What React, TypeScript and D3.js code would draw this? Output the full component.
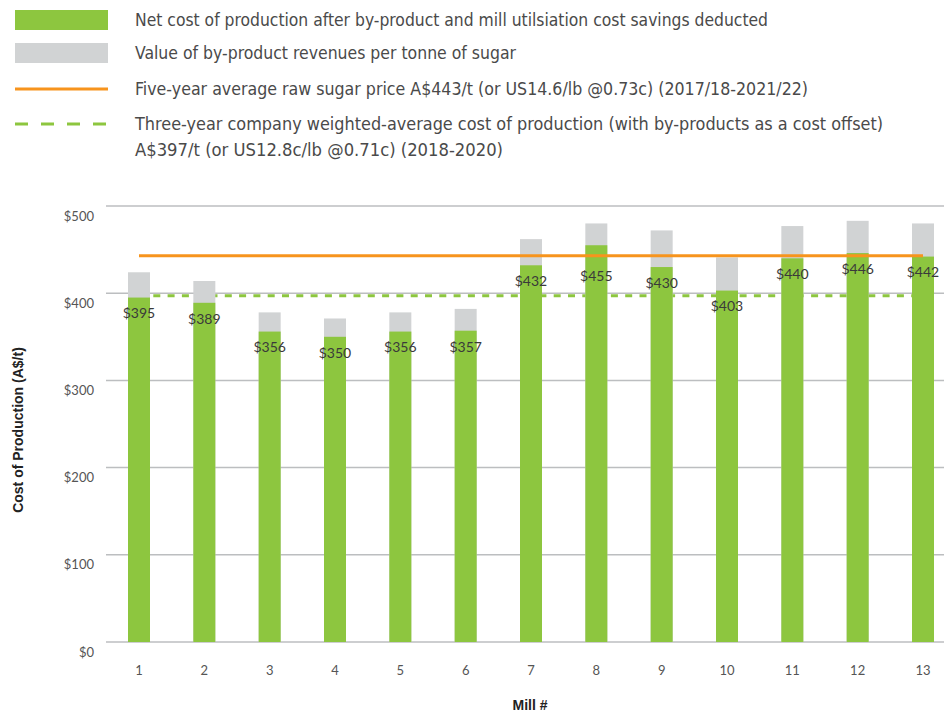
import React from "react";
import * as d3 from "d3";

const mills = ["1", "2", "3", "4", "5", "6", "7", "8", "9", "10", "11", "12", "13"];
const netCost = [395, 389, 356, 350, 356, 357, 432, 455, 430, 403, 440, 446, 442];
const byProduct = [29, 25, 22, 21, 22, 25, 30, 25, 42, 38, 37, 37, 38];
const yTicks = [0, 100, 200, 300, 400, 500];
const sugarPrice = 443;
const avgCost = 397;

const legendLabels = [
  "Net cost of production after by-product and mill utilsiation cost savings deducted",
  "Value of by-product revenues per tonne of sugar",
  "Five-year average raw sugar price A$443/t (or US14.6/lb @0.73c) (2017/18-2021/22)",
  "Three-year company weighted-average cost of production (with by-products as a cost offset)",
  "A$397/t (or US12.8c/lb @0.71c) (2018-2020)",
];

const GREEN = "#8dc63f";
const GRAY = "#d1d3d4";
const ORANGE = "#f7941d";
const GRID = "#bcbec0";
const TEXT = "#4a4a4a";

export default function App() {
  const W = 944;
  const H = 714;
  const x = d3.scalePoint<string>().domain(mills).range([139, 923]);
  const y = d3.scaleLinear().domain([0, 500]).range([642, 206]);
  const bw = 22;
  const legendFont = "'Liberation Sans Narrow', 'DejaVu Sans Condensed', 'Roboto', sans-serif";
  const labelFont = "Lato, 'Open Sans', sans-serif";

  const orangeY = y(sugarPrice);
  const labelY = (v: number) => {
    let ly = y(v) + 16;
    if (Math.abs(ly - orangeY) < 10) ly = orangeY + 20;
    return ly;
  };

  const legendRowsY = [20, 53, 89, 124, 150];
  const legendWidths = [633, 381, 673, 748, 368];

  return (
    <svg
      width={W}
      height={H}
      style={{ position: "absolute", left: 0, top: 0, background: "#fff" }}
    >
      {/* Legend */}
      <rect x={15} y={10} width={93} height={20} fill={GREEN} />
      <rect x={15} y={43} width={93} height={20} fill={GRAY} />
      <line x1={15} x2={108} y1={89} y2={89} stroke={ORANGE} strokeWidth={3} />
      <line
        x1={15}
        x2={110}
        y1={124}
        y2={124}
        stroke={GREEN}
        strokeWidth={3}
        strokeDasharray="13,13"
      />
      {legendLabels.map((t, i) => (
        <text
          key={i}
          x={135}
          y={legendRowsY[i]}
          dy="0.35em"
          fontFamily={legendFont}
          fontSize={17}
          fill={TEXT}
          textLength={legendWidths[i]}
          lengthAdjust="spacingAndGlyphs"
        >
          {t}
        </text>
      ))}

      {/* Gridlines */}
      {yTicks.map((t) => (
        <g key={t}>
          <line x1={106} x2={944} y1={y(t)} y2={y(t)} stroke={GRID} strokeWidth={1.5} />
          <text
            x={94}
            y={y(t) + 10}
            dy="0.35em"
            textAnchor="end"
            fontFamily={labelFont}
            fontSize={13}
            fill="#555"
          >
            {"$" + t}
          </text>
        </g>
      ))}

      {/* Dashed average cost line */}
      <line
        x1={x("1")}
        x2={x("13")}
        y1={y(avgCost)}
        y2={y(avgCost)}
        stroke={GREEN}
        strokeWidth={3}
        strokeDasharray="7,7.3"
      />

      {/* Bars */}
      {mills.map((m, i) => {
        const cx = x(m) as number;
        const total = netCost[i] + byProduct[i];
        return (
          <g key={m}>
            <rect x={cx - bw / 2} y={y(total)} width={bw} height={y(0) - y(total)} fill={GRAY} />
            <rect x={cx - bw / 2} y={y(netCost[i])} width={bw} height={y(0) - y(netCost[i])} fill={GREEN} />
          </g>
        );
      })}

      {/* Orange sugar price line */}
      <line
        x1={x("1")}
        x2={x("13")}
        y1={orangeY}
        y2={orangeY}
        stroke={ORANGE}
        strokeWidth={3}
      />

      {/* Value labels */}
      {mills.map((m, i) => (
        <text
          key={m}
          x={x(m) as number}
          y={labelY(netCost[i])}
          dy="0.35em"
          textAnchor="middle"
          fontFamily={labelFont}
          fontSize={14}
          fill="#3a3a3a"
        >
          {"$" + netCost[i]}
        </text>
      ))}

      {/* X tick labels */}
      {mills.map((m) => (
        <text
          key={m}
          x={x(m) as number}
          y={670}
          dy="0.35em"
          textAnchor="middle"
          fontFamily={labelFont}
          fontSize={13}
          fill="#555"
        >
          {m}
        </text>
      ))}

      {/* Axis titles */}
      <text
        x={530}
        y={705}
        dy="0.35em"
        textAnchor="middle"
        fontFamily="'Liberation Sans', Arial, sans-serif"
        fontWeight="bold"
        fontSize={14}
        fill="#222"
      >
        Mill #
      </text>
      <text
        transform="translate(18,430) rotate(-90)"
        dy="0.35em"
        textAnchor="middle"
        fontFamily="'Liberation Sans', Arial, sans-serif"
        fontWeight="bold"
        fontSize={14}
        fill="#222"
      >
        Cost of Production (A$/t)
      </text>
    </svg>
  );
}
